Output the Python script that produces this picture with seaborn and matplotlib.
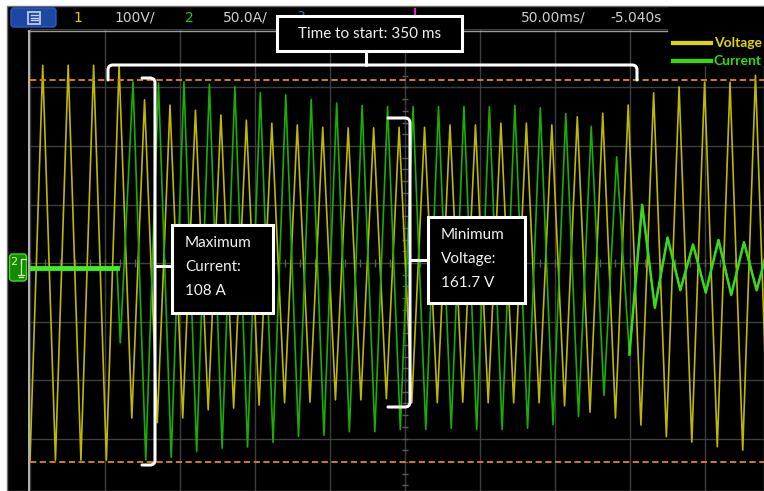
import numpy as np
import pandas as pd
import matplotlib
matplotlib.use("Agg")
import matplotlib.pyplot as plt
from matplotlib.patches import Rectangle, FancyBboxPatch, PathPatch
from matplotlib.path import Path
import seaborn as sns

#scope settings
ms_per_div = 50.0
volts_per_div = 100.0
amps_per_div = 50.0
period_ms = 16.97

#voltage extremes, one value per half cycle (V)
voltage_first_trough_ms = 0.0
voltage_troughs = [-337, -337, -337, -337, -265, -273, -265, -251, -248, -243,
                   -239, -238, -234, -234, -232, -239, -239, -238, -239, -239,
                   -239, -244, -255, -265, -277, -297, -306, -314, -320, -322]
voltage_peaks = [338, 338, 338, 338, 279, 270, 261, 253, 244, 239,
                 236, 232, 231, 231, 232, 232, 236, 236, 239, 239,
                 236, 250, 256, 270, 291, 301, 309, 309, 321]

#current extremes (A); zero until the motor is switched on
current_on_ms = 58.0
current_first_trough_ms = 60.2
current_troughs = [-64, -164, -162, -157, -154, -153, -149, -144, -143, -140,
                   -140, -138, -138, -137, -138, -138, -137, -134, -127, -109,
                   -74, -34, -19, -21, -23, -19]
current_peaks = [159, 158, 159, 157, 155, 150, 148, 144, 141, 139,
                 138, 138, 138, 138, 138, 139, 137, 132, 121, 95,
                 54, 26, 20, 24, 22, 22]
current_offset_div = -0.085
running_from_ms = 405.0

#cursor levels (V)
cursor_top_v = 313
cursor_bottom_v = -340

header_items = [("1", 78, "#d8d000"), ("100V/", 135, "#cfcfcf"), ("2", 189, "#22cc00"),
                ("50.0A/", 245, "#cfcfcf"), ("50.00ms/", 553, "#cfcfcf"), ("-5.040s", 636, "#cfcfcf")]

half = period_ms / 2

#build the half cycle tables
t_vt = voltage_first_trough_ms + period_ms * np.arange(len(voltage_troughs))
t_vp = voltage_first_trough_ms + half + period_ms * np.arange(len(voltage_peaks))
df_v = pd.DataFrame({"t": np.concatenate([t_vt, t_vp]),
                     "v": np.concatenate([voltage_troughs, voltage_peaks])}).sort_values("t")

t_it = current_first_trough_ms + period_ms * np.arange(len(current_troughs))
t_ip = current_first_trough_ms + half + period_ms * np.arange(len(current_peaks))
df_i = pd.DataFrame({"t": np.concatenate([[-2.0, current_on_ms], t_it, t_ip]),
                     "a": np.concatenate([[0, 0], current_troughs, current_peaks])}).sort_values("t")

W, H = 764, 491
fig = plt.figure(figsize=(W / 100, H / 100), dpi=100)
fig.patch.set_facecolor("white")

#background: black scope screen
ax_bg = fig.add_axes([0, 0, 1, 1], zorder=0)
ax_bg.set_xlim(0, W)
ax_bg.set_ylim(H, 0)
ax_bg.axis("off")
ax_bg.add_patch(Rectangle((7, 6), W - 7, H - 6, fc="black", ec="#707070", lw=1))

#graticule axes: 10 x 8 divisions, center at (405, 263) px
left, top, dx, dy = 30, 29, 75, 58.5
ax_v = fig.add_axes([left / W, (H - (top + 8 * dy)) / H, 10 * dx / W, 8 * dy / H], zorder=1)
ax_v.set_facecolor("none")
ax_i = ax_v.twinx()
ax_i.set_zorder(2)
ax_i.set_facecolor("none")

ax_v.set_xlim(0, 10 * ms_per_div)
ax_v.set_ylim(-4 * volts_per_div, 4 * volts_per_div)
ax_i.set_ylim((-4 - current_offset_div) * amps_per_div, (4 - current_offset_div) * amps_per_div)

ax_v.set_xticks(np.arange(0, 10 * ms_per_div + 1, ms_per_div))
ax_v.set_yticks(np.arange(-4, 5) * volts_per_div)
ax_v.grid(True, color="#3e3e3e", lw=1)
ax_v.set_axisbelow(True)
ax_v.tick_params(length=0, labelleft=False, labelbottom=False)
ax_i.set_yticks([])
ax_i.tick_params(length=0, labelright=False)
for a in (ax_v, ax_i):
    for s in a.spines.values():
        s.set_visible(False)

#small ticks on the center cross
ax_v.vlines(np.arange(0, 501, 10), -7, 7, color="#5a5a5a", lw=1)
ax_v.hlines(np.arange(-400, 401, 20), 247.7, 252.3, color="#5a5a5a", lw=1)

#traces
sns.lineplot(data=df_v, x="t", y="v", ax=ax_v, color="#bfb800", lw=1.2, estimator=None, sort=False)
on = df_i[df_i["t"] >= current_on_ms]
sns.lineplot(data=on, x="t", y="a", ax=ax_i, color="#1aae00", lw=1.2, estimator=None, sort=False)
sns.lineplot(data=df_i[df_i["t"] >= running_from_ms - half], x="t", y="a", ax=ax_i,
             color="#36dc1c", lw=1.8, estimator=None, sort=False)
sns.lineplot(data=df_i[df_i["t"] <= current_on_ms], x="t", y="a", ax=ax_i,
             color="#3cee24", lw=3.5, estimator=None, sort=False)
for a in (ax_v, ax_i):
    a.set_xlabel("")
    a.set_ylabel("")

#cursors
for c in (cursor_top_v, cursor_bottom_v):
    ax_v.axhline(c, color="#d98000", lw=1.4, dashes=(3.2, 1.8), zorder=5)

#overlay: header, legend, annotations (pixel coords)
ax_o = fig.add_axes([0, 0, 1, 1], zorder=3)
ax_o.set_xlim(0, W)
ax_o.set_ylim(H, 0)
ax_o.axis("off")
ax_o.patch.set_alpha(0)

ax_o.plot([28, 667], [31, 31], color="#9a9a9a", lw=1)
ax_o.plot([28.5, 28.5], [31, H], color="#b4b4b4", lw=1.4)

#menu button
ax_o.add_patch(FancyBboxPatch((11, 8), 45, 19, boxstyle="round,pad=0,rounding_size=3",
                              fc="#1c47a3", ec="#2c5cc0", lw=1))
ax_o.add_patch(Rectangle((28, 11.5), 12, 12, fc="none", ec="#c8d4ee", lw=1.2))
for yy in (15, 17.5, 20):
    ax_o.plot([30.5, 37.5], [yy, yy], color="#c8d4ee", lw=1)

for txt, x, col in header_items:
    ax_o.text(x, 17.5, txt, color=col, fontsize=10, ha="center", va="center",
              family=["DejaVu Sans"])
ax_o.text(301, 17, "3", color="#3a5ad8", fontsize=10, ha="center", va="center")
ax_o.plot([415, 415], [9, 14], color="#e020d0", lw=1.5)

#channel 2 ground marker
ax_o.add_patch(FancyBboxPatch((9.5, 254), 17, 27, boxstyle="round,pad=0,rounding_size=3",
                              fc="#158a00", ec="#3ee020", lw=1))
ax_o.text(14, 262, "2", color="#c8ffb0", fontsize=8, ha="center", va="center")
ax_o.plot([21, 21, 26], [275, 259, 259], color="#c8ffb0", lw=0.9)
ax_o.plot([18, 24], [275, 275], color="#c8ffb0", lw=0.9)
ax_o.plot([19, 23], [277, 277], color="#c8ffb0", lw=0.9)

#legend overlay
ax_o.add_patch(Rectangle((668, 7), W - 668, 59, fc="black", ec="none"))
ax_o.plot([673, 711], [43, 43], color="#e0d400", lw=3)
ax_o.plot([673, 711], [61, 61], color="#33dd00", lw=3)
ax_o.text(714, 43, "Voltage", color="#e0d400", fontsize=10, fontweight="bold",
          va="center", family=["Lato", "DejaVu Sans"])
ax_o.text(714, 61, "Current", color="#33dd00", fontsize=10, fontweight="bold",
          va="center", family=["Lato", "DejaVu Sans"])


def brace(pts, r=5):
    verts = [pts[0]]
    codes = [Path.MOVETO]
    for k in range(1, len(pts) - 1):
        p0, p1, p2 = (np.array(p, float) for p in pts[k - 1:k + 2])
        a = p1 + (p0 - p1) / np.linalg.norm(p0 - p1) * r
        b = p1 + (p2 - p1) / np.linalg.norm(p2 - p1) * r
        verts += [tuple(a), tuple(p1), tuple(b)]
        codes += [Path.LINETO, Path.CURVE3, Path.CURVE3]
    verts.append(pts[-1])
    codes.append(Path.LINETO)
    ax_o.add_patch(PathPatch(Path(verts, codes), fill=False, ec="white", lw=2.2,
                             capstyle="round", joinstyle="round", zorder=4))


brace([(108, 80), (108, 65), (637, 65), (637, 80)])
brace([(366, 65), (366, 50)], r=0)
brace([(142, 78), (155, 78), (155, 465), (142, 465)])
brace([(155, 266), (172, 266)], r=0)
brace([(388, 118), (410, 118), (410, 407), (388, 407)])
brace([(410, 260), (428, 260)], r=0)

box_font = dict(color="#f2f2f2", fontsize=11, family=["Lato", "DejaVu Sans"], zorder=6)
ax_o.add_patch(Rectangle((277, 16), 185, 35, fc="black", ec="white", lw=2.2, zorder=5))
ax_o.text(369.5, 34, "Time to start: 350 ms", ha="center", va="center", **box_font)

ax_o.add_patch(Rectangle((172, 225), 101, 88, fc="black", ec="white", lw=2.2, zorder=5))
for k, line in enumerate(["Maximum", "Current:", "108 A"]):
    ax_o.text(185, 243 + 24 * k, line, ha="left", va="center", **box_font)

ax_o.add_patch(Rectangle((428, 217), 97, 86, fc="black", ec="white", lw=2.2, zorder=5))
for k, line in enumerate(["Minimum", "Voltage:", "161.7 V"]):
    ax_o.text(441, 235 + 24 * k, line, ha="left", va="center", **box_font)

fig.savefig("out.png", dpi=100, facecolor=fig.get_facecolor())
